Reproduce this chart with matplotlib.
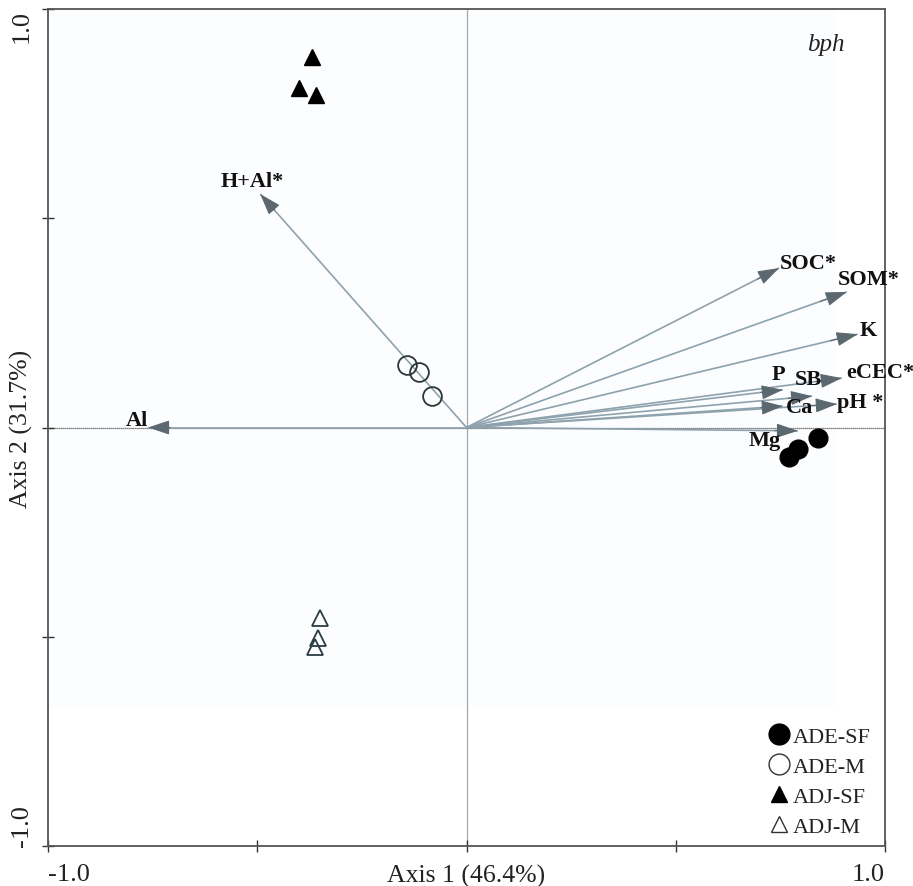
import matplotlib
matplotlib.use("Agg")
import matplotlib.pyplot as plt
from matplotlib.lines import Line2D
from matplotlib.patches import Rectangle, FancyArrowPatch

plt.rcParams['font.family'] = ['Liberation Serif', 'DejaVu Serif']

# ---- data ----
ade_sf_x = [0.840, 0.792, 0.771]
ade_sf_y = [-0.025, -0.051, -0.070]
ade_m_x = [-0.142, -0.114, -0.082]
ade_m_y = [0.149, 0.133, 0.075]
adj_sf_x = [-0.369, -0.400, -0.360]
adj_sf_y = [0.885, 0.811, 0.794]
adj_m_x = [-0.350, -0.355, -0.362]
adj_m_y = [-0.455, -0.503, -0.525]

vec_names = ['H+Al*', 'Al', 'SOC*', 'SOM*', 'K', 'eCEC*', 'P', 'SB', 'Ca', 'pH *', 'Mg']
vec_x = [-0.493, -0.761, 0.747, 0.909, 0.935, 0.897, 0.756, 0.826, 0.756, 0.885, 0.792]
vec_y = [0.558, 0.0, 0.381, 0.324, 0.223, 0.118, 0.090, 0.075, 0.051, 0.056, -0.008]

# label offsets from arrow tip (pixels)
label_off = [(-8, 13), (-11, 8), (29, 5), (22, 13), (10, 4), (38, 6),
             (-4, 16), (-4, 17), (17, -1), (23, 2), (-33, -9)]

xticks = [-1.0, -0.5, 0.0, 0.5, 1.0]
xticklabels = ['-1.0', '', '', '', '1.0']
yticks = [-1.0, -0.5, 0.0, 0.5, 1.0]
yticklabels = ['-1.0', '', '', '', '1.0']

x_label = 'Axis 1 (46.4%)'
y_label = 'Axis 2 (31.7%)'
legend_labels = ['ADE-SF', 'ADE-M', 'ADJ-SF', 'ADJ-M']

# ---- figure ----
fig = plt.figure(figsize=(9.13, 8.87), dpi=100)
ax = fig.add_axes([48/913, 1-847/887, 837/913, 837/887])
ax.set_xlim(-1, 1)
ax.set_ylim(-1, 1)

# faint scanned background panel
ax.add_patch(Rectangle((0, 0.167), 0.940, 0.833, transform=ax.transAxes,
                       facecolor='#fcfdff', edgecolor='none', zorder=0))

# centre lines
ax.axvline(0, color='#777777', lw=0.9, ls=(0, (1, 0.6)), zorder=1)
ax.axhline(0, color='#555555', lw=0.9, ls=(0, (1, 0.6)), zorder=1)

# vectors
shaft_col = '#8ea2ad'
head_col = '#5c6870'
for name, vx, vy, off in zip(vec_names, vec_x, vec_y, label_off):
    ax.plot([0, vx], [0, vy], color=shaft_col, lw=1.2, zorder=2, solid_capstyle='butt')
    arr = FancyArrowPatch((0.93 * vx, 0.93 * vy), (vx, vy),
                          arrowstyle='-|>,head_length=1.35,head_width=0.45',
                          mutation_scale=10, color=head_col, lw=0.8, zorder=3,
                          shrinkA=0, shrinkB=0)
    ax.add_patch(arr)
    ax.annotate(name, (vx, vy), xytext=off, textcoords='offset pixels',
                ha='center', va='center', fontsize=16, fontweight='bold',
                color='#111111', zorder=5)

# points
ax.plot(ade_sf_x, ade_sf_y, 'o', ms=13.5, mfc='black', mec='black', ls='none', zorder=4)
ax.plot(ade_m_x, ade_m_y, 'o', ms=13.5, mfc='none', mec='#2b3535', mew=1.3, ls='none', zorder=4)
ax.plot(adj_sf_x, adj_sf_y, '^', ms=12, mfc='black', mec='black', ls='none', zorder=4)
ax.plot(adj_m_x, adj_m_y, '^', ms=12, mfc='none', mec='#2b3b42', mew=1.3, ls='none', zorder=4)

# legend
handles = [
    Line2D([], [], marker='o', ls='none', ms=15, mfc='black', mec='black'),
    Line2D([], [], marker='o', ls='none', ms=15, mfc='white', mec='#333333', mew=1.0),
    Line2D([], [], marker='^', ls='none', ms=12, mfc='black', mec='black'),
    Line2D([], [], marker='^', ls='none', ms=12, mfc='white', mec='#333333', mew=1.0),
]
leg = ax.legend(handles, legend_labels, loc='lower left', bbox_to_anchor=(0.858, 0.008),
                frameon=False, fontsize=16, handlelength=1.0, handletextpad=0.12,
                labelspacing=0.43, borderaxespad=0, borderpad=0.1)
for t in leg.get_texts():
    t.set_color('#222222')

# bph
ax.text(0.929, 0.958, 'bph', transform=ax.transAxes, fontsize=18, style='italic',
        ha='center', va='center', color='#222222')

# spines & ticks
for s in ax.spines.values():
    s.set_color('#555555')
    s.set_linewidth(1.3)
ax.set_xticks(xticks)
ax.set_xticklabels(xticklabels)
ax.set_yticks(yticks)
ax.set_yticklabels(yticklabels)
ax.tick_params(direction='inout', length=8, width=1, colors='#333333',
               labelsize=19, labelcolor='#222222')
ax.tick_params(axis='x', pad=8)
ax.tick_params(axis='y', pad=7)
xl = ax.get_xticklabels()
xl[0].set_ha('left')
xl[-1].set_ha('right')
yl = ax.get_yticklabels()
for t in yl:
    t.set_rotation(90)
yl[0].set_va('bottom')
yl[-1].set_va('top')

ax.set_xlabel(x_label, fontsize=18.5, color='#222222')
ax.set_ylabel(y_label, fontsize=18.5, color='#222222')
ax.xaxis.set_label_coords(0.5, -0.035, transform=ax.transAxes)
ax.yaxis.set_label_coords(-0.032, 0.5, transform=ax.transAxes)
ax.xaxis.label.set_va('center')
ax.yaxis.label.set_va('center')

fig.savefig('out.png', dpi=100)
